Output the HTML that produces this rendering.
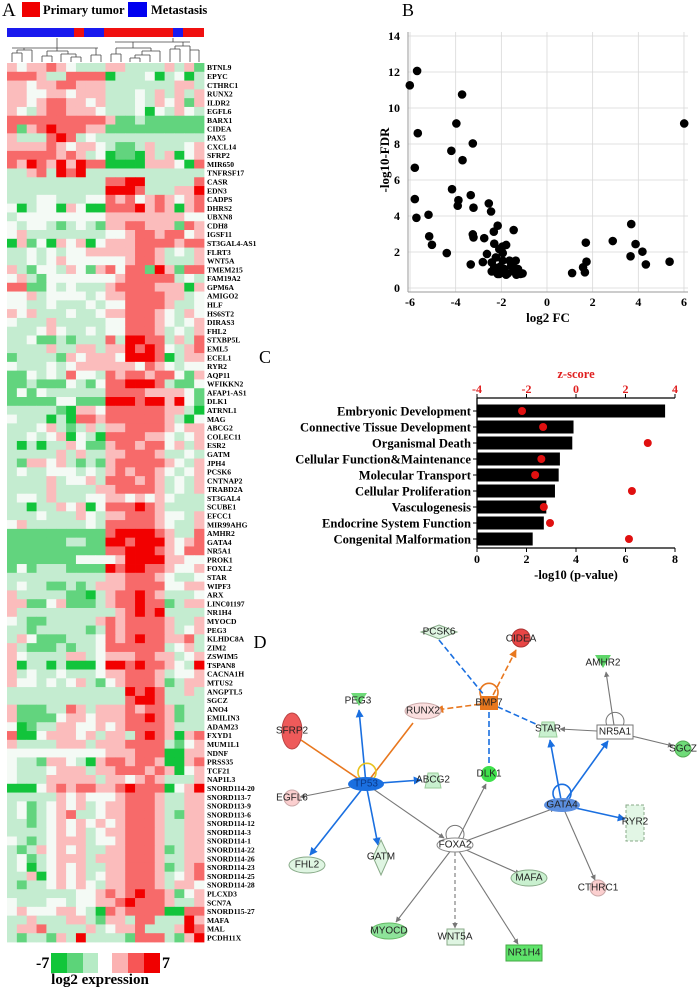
<!DOCTYPE html>
<html><head><meta charset="utf-8"><style>
body{margin:0;background:#fff;}
svg{display:block;font-family:"Liberation Serif",serif;}
.b{font-weight:bold;}
.net text{font-family:"Liberation Sans",sans-serif;font-size:10px;fill:#222;text-anchor:middle;dominant-baseline:central;}
</style></head><body>
<svg id="fig" width="697" height="992" viewBox="0 0 697 992">
<defs>
<marker id="ab" viewBox="0 0 10 10" refX="9" refY="5" markerWidth="5" markerHeight="5" orient="auto"><path d="M0,0L10,5L0,10z" fill="#1a6fe0"/></marker>
<marker id="ag" viewBox="0 0 10 10" refX="9" refY="5" markerWidth="5" markerHeight="5" orient="auto"><path d="M0,0L10,5L0,10z" fill="#777"/></marker>
<marker id="ao" viewBox="0 0 10 10" refX="9" refY="5" markerWidth="5" markerHeight="5" orient="auto"><path d="M0,0L10,5L0,10z" fill="#e8771e"/></marker>
</defs>
<g>
<text x="2" y="16" font-size="19">A</text>
<rect x="22" y="2" width="18" height="15" fill="#f00000"/>
<text x="43" y="14" font-size="12.5" class="b">Primary tumor</text>
<rect x="128" y="2" width="19" height="15" fill="#0000f0"/>
<text x="151" y="14" font-size="12.5" class="b">Metastasis</text>
</g>
<g>
<rect x="7" y="28" width="67" height="9" fill="#1a1aee"/>
<rect x="74" y="28" width="10" height="9" fill="#f01010"/>
<rect x="84" y="28" width="20" height="9" fill="#1a1aee"/>
<rect x="104" y="28" width="69" height="9" fill="#f01010"/>
<rect x="173" y="28" width="10" height="9" fill="#1a1aee"/>
<rect x="183" y="28" width="21" height="9" fill="#f01010"/>
</g>
<path fill="none" stroke="#444" stroke-width="0.8" d="
M57,38V48 M12,48H98
M12,62V53 M22,62V53 M12,53H22 M17,53V50 M32,62V50 M17,50H32 M24,50V48
M42,62V56 M52,62V56 M42,56H52 M47,56V51 M61,62V54 M71,62V57 M81,62V57 M71,57H81 M76,57V54 M61,54H76 M68,54V51 M47,51H68 M57,51V48
M91,62V55 M101,62V55 M91,55H101 M96,55V48
M173,38V42 M115,42H190
M111,62V54 M121,62V54 M111,54H121 M116,54V48 M130,62V58 M140,62V58 M130,58H140 M135,58V55 M150,62V55 M135,55H150 M142,55V51 M160,62V56 M160,56V51 M142,51H160 M151,51V48 M116,48H151 M133,48V42
M170,62V49 M180,62V49 M170,49H180 M175,49V46 M190,62V46 M175,46H190 M183,46V42 M199,62V50 M190,50H199"/>
<g id="heat"></g>
<g>
<text x="36" y="968" font-size="16" class="b">-7</text>
<rect x="51" y="953" width="16" height="20" fill="#11c63a"/>
<rect x="67" y="953" width="16" height="20" fill="#5cd479"/>
<rect x="83" y="953" width="15" height="20" fill="#b6ebc5"/>
<rect x="112" y="953" width="16" height="20" fill="#fbb2b2"/>
<rect x="128" y="953" width="16" height="20" fill="#f75656"/>
<rect x="144" y="953" width="16" height="20" fill="#f00000"/>
<text x="162" y="968" font-size="16" class="b">7</text>
<text x="100" y="984" font-size="15" class="b" text-anchor="middle">log2 expression</text>
</g>
<g id="volc">
<text x="402" y="16" font-size="18">B</text>
<text transform="translate(389,160) rotate(-90)" font-size="13" class="b" text-anchor="middle">-log10-FDR</text>
<text x="548" y="322" font-size="13" class="b" text-anchor="middle">log2 FC</text>
</g>
<g id="bars">
<text x="259" y="363" font-size="18">C</text>
<text x="576" y="378" font-size="12.5" class="b" fill="#e02020" text-anchor="middle">z-score</text>
<text x="576" y="579" font-size="12.5" class="b" text-anchor="middle">-log10 (p-value)</text>
</g>
<g class="net">
<text x="260" y="642" style="font-family:'Liberation Serif',serif;font-size:18px;fill:#000">D</text>
<g fill="none" stroke-width="1.6">
<line x1="366" y1="784" x2="359" y2="710" stroke="#1a6fe0" marker-end="url(#ab)"/>
<line x1="366" y1="784" x2="310" y2="855" stroke="#1a6fe0" marker-end="url(#ab)"/>
<line x1="366" y1="784" x2="378" y2="845" stroke="#1a6fe0" marker-end="url(#ab)"/>
<line x1="366" y1="784" x2="421" y2="780" stroke="#1a6fe0" marker-end="url(#ab)"/>
<line x1="366" y1="784" x2="301" y2="740" stroke="#e8771e"/>
<line x1="366" y1="784" x2="413" y2="723" stroke="#e8771e"/>
<line x1="366" y1="784" x2="300" y2="797" stroke="#777" stroke-width="1.1" marker-end="url(#ag)"/>
<line x1="366" y1="784" x2="444" y2="838" stroke="#777" stroke-width="1.1" marker-end="url(#ag)"/>
<path d="M360,778 a9,9 0 1 1 14,0" stroke="#e8c21e"/>
<line x1="489" y1="703" x2="436" y2="710" stroke="#e8771e" stroke-dasharray="6,3" marker-end="url(#ao)"/>
<line x1="489" y1="703" x2="516" y2="650" stroke="#e8771e" stroke-dasharray="6,3" marker-end="url(#ao)"/>
<path d="M482,698 a9,9 0 1 1 14,0" stroke="#e8771e"/>
<line x1="489" y1="703" x2="489" y2="763" stroke="#1a6fe0" stroke-dasharray="6,3"/>
<line x1="489" y1="703" x2="538" y2="725" stroke="#1a6fe0" stroke-dasharray="6,3"/>
<line x1="439" y1="640" x2="484" y2="695" stroke="#1a6fe0" stroke-dasharray="6,3"/>
<line x1="562" y1="805" x2="550" y2="740" stroke="#1a6fe0" marker-end="url(#ab)"/>
<line x1="562" y1="805" x2="608" y2="741" stroke="#1a6fe0" marker-end="url(#ab)"/>
<line x1="562" y1="805" x2="625" y2="819" stroke="#1a6fe0" marker-end="url(#ab)"/>
<path d="M555,799 a9,9 0 1 1 14,0" stroke="#1a6fe0"/>
<line x1="615" y1="732" x2="560" y2="729" stroke="#777" stroke-width="1.1" marker-end="url(#ag)"/>
<line x1="615" y1="732" x2="606" y2="672" stroke="#777" stroke-width="1.1" marker-end="url(#ag)"/>
<line x1="615" y1="732" x2="673" y2="746" stroke="#777" stroke-width="1.1" marker-end="url(#ag)"/>
<path d="M608,727 a9,9 0 1 1 14,0" stroke="#777" stroke-width="1"/>
<line x1="562" y1="805" x2="595" y2="880" stroke="#777" stroke-width="1.1" marker-end="url(#ag)"/>
<line x1="455" y1="845" x2="555" y2="808" stroke="#777" stroke-width="1.1" marker-end="url(#ag)"/>
<line x1="455" y1="845" x2="486" y2="784" stroke="#777" stroke-width="1.1" marker-end="url(#ag)"/>
<line x1="455" y1="845" x2="520" y2="874" stroke="#777" stroke-width="1.1" marker-end="url(#ag)"/>
<line x1="455" y1="845" x2="396" y2="922" stroke="#777" stroke-width="1.1" marker-end="url(#ag)"/>
<line x1="455" y1="845" x2="455" y2="928" stroke="#777" stroke-width="1.1" stroke-dasharray="4,3" marker-end="url(#ag)"/>
<line x1="455" y1="845" x2="518" y2="944" stroke="#777" stroke-width="1.1" marker-end="url(#ag)"/>
<path d="M448,840 a9,9 0 1 1 14,0" stroke="#777" stroke-width="1"/>
</g>
<g><path d="M439,625L457,632L439,639L421,632z" fill="#dff5e2" stroke="#8a8"/><text x="439" y="632">PCSK6</text></g>
<g><circle cx="521" cy="638" r="9" fill="#e84545" stroke="#a33"/><text x="521" y="639">CIDEA</text></g>
<g><path d="M595,655H611L603,668z" fill="#5fd66a"/><text x="603" y="663">AMHR2</text></g>
<g><rect x="480" y="696" width="18" height="14" fill="#e8771e"/><text x="489" y="703">BMP7</text></g>
<g><path d="M351,693H367L359,706z" fill="#6fdb79"/><text x="358" y="701">PEG3</text></g>
<g><ellipse cx="423" cy="711" rx="18" ry="8" fill="#fbdede" stroke="#caa"/><text x="423" y="711">RUNX2</text></g>
<g><ellipse cx="292" cy="731" rx="10" ry="18" fill="#ee5a5a" stroke="#b44"/><text x="292" y="731">SFRP2</text></g>
<g><path d="M542,722H554L557,737H539z" fill="#c9f0cf" stroke="#9c9"/><text x="548" y="729">STAR</text></g>
<g><rect x="597" y="725" width="36" height="14" fill="#fff" stroke="#777"/><text x="615" y="732">NR5A1</text></g>
<g><circle cx="683" cy="749" r="8" fill="#6fdb79" stroke="#5a5"/><text x="683" y="749">SGCZ</text></g>
<g><ellipse cx="366" cy="784" rx="18" ry="7" fill="#1a6fe0"/><text x="366" y="784" style="fill:#0b3a8a">TP53</text></g>
<g><path d="M428,773H438L441,788H425z" fill="#c9f0cf" stroke="#9c9"/><text x="433" y="780">ABCG2</text></g>
<g><circle cx="489" cy="774" r="8" fill="#3ee04b"/><text x="489" y="774">DLK1</text></g>
<g><circle cx="292" cy="798" r="8" fill="#fbcfcf" stroke="#caa"/><text x="292" y="798">EGFL6</text></g>
<g><ellipse cx="562" cy="805" rx="18" ry="7" fill="#5b8fe0"/><text x="562" y="805">GATA4</text></g>
<g><rect x="626" y="805" width="18" height="36" fill="#e2f6e5" stroke="#8a8" stroke-dasharray="3,2"/><text x="635" y="822">RYR2</text></g>
<g><ellipse cx="455" cy="845" rx="18" ry="7" fill="#fff" stroke="#888"/><text x="455" y="845">FOXA2</text></g>
<g><ellipse cx="307" cy="865" rx="18" ry="8" fill="#dff5e2" stroke="#8a8"/><text x="307" y="865">FHL2</text></g>
<g><path d="M381,840L389,857L381,875L373,857z" fill="#dff5e2" stroke="#8a8"/><text x="381" y="857">GATM</text></g>
<g><ellipse cx="529" cy="878" rx="18" ry="8" fill="#c9f0cf" stroke="#8a8"/><text x="529" y="878">MAFA</text></g>
<g><circle cx="598" cy="888" r="8" fill="#fbcfcf" stroke="#caa"/><text x="598" y="888">CTHRC1</text></g>
<g><ellipse cx="389" cy="931" rx="18" ry="8" fill="#8ee39a" stroke="#6b6"/><text x="389" y="931">MYOCD</text></g>
<g><rect x="447" y="929" width="17" height="16" fill="#dff5e2" stroke="#8a8"/><text x="455" y="937">WNT5A</text></g>
<g><rect x="506" y="945" width="36" height="16" fill="#5ee36a" stroke="#4a4"/><text x="524" y="953">NR1H4</text></g>
</g>
</svg>
<script>
const NS='http://www.w3.org/2000/svg';
function mk(tag,attrs,parent){const e=document.createElementNS(NS,tag);for(const k in attrs)e.setAttribute(k,attrs[k]);parent.appendChild(e);return e;}
const genes=["BTNL9","EPYC","CTHRC1","RUNX2","ILDR2","EGFL6","BARX1","CIDEA","PAX5","CXCL14","SFRP2","MIR650","TNFRSF17","CASR","EDN3","CADPS","DHRS2","UBXN8","CDH8","IGSF11","ST3GAL4-AS1","FLRT3","WNT5A","TMEM215","FAM19A2","GPM6A","AMIGO2","HLF","HS6ST2","DIRAS3","FHL2","STXBP5L","EML5","ECEL1","RYR2","AQP11","WFIKKN2","AFAP1-AS1","DLK1","ATRNL1","MAG","ABCG2","COLEC11","ESR2","GATM","JPH4","PCSK6","CNTNAP2","TRABD2A","ST3GAL4","SCUBE1","EFCC1","MIR99AHG","AMHR2","GATA4","NR5A1","PROK1","FOXL2","STAR","WIPF3","ARX","LINC01197","NR1H4","MYOCD","PEG3","KLHDC8A","ZIM2","ZSWIM5","TSPAN8","CACNA1H","MTUS2","ANGPTL5","SGCZ","ANO4","EMILIN3","ADAM23","FXYD1","MUM1L1","NDNF","PRSS35","TCF21","NAP1L3","SNORD114-20","SNORD113-7","SNORD113-9","SNORD113-6","SNORD114-12","SNORD114-3","SNORD114-1","SNORD114-22","SNORD114-26","SNORD114-23","SNORD114-25","SNORD114-28","PLCXD3","SCN7A","SNORD115-27","MAFA","MAL","PCDH11X"];
const rowsA=["p0pprp0lllppllllplpg","rrrpllrrrrGlll0Gl0Gl","pp0pprrppplllllllppl","pp00pp0ppplll0lplplp","pp0prrpp0plll0lp0pgp","p0lprrppp0lll0G0lp0l","rrrrrrrrrrpgglgggggg","rgprRrrrppgggggggggg","plllrRrl0lllllllllll","pppprp0pp0lgglplll0p","rrrrrprpl0GggGplpG0p","rpRrpRpRrrGGGGppp0Gr","llprlRrRllllllllllll"];
const rowsB=["llllllllllrrRRlllllr","llllllllllRRRrlllppR","lll00lll00rpr0prp0pr","0Gl00Gp0GGrrrRprpGpr","l000000000pppppppp00","0l00lgl0lgpprrpppgrp","0pllllllll00prrprr0p","Gpg0Gp0pG0ppprrrrprr","ll0l0l00ppppprrpl0lp","ll0l0p000000prrplllp","plg00lp0gpr0rrgRpgrr","0plg0000000prrrrrl0l","rrgg0l0lllprrrrpppGp","00pl0000l0pprrrrppl0","00ll0lll0l00rrrrpll0","p0plll0ll0pprrrp0lp0","0lllplllll00rrrp0l0p","lll0p0ll0l00rrrpl0lp","ll0gglglllrlRRrrlplr","llllpllpplppRrRr0lpr","gllllgp0ppp0RRRrGlpp","0lll0l0pppppp0rp0l00","gg0l0lr00lrprrprr0gp","gglggg0lg0rrRRRrlgg0","g0g0llllllrrrrpppp0g","ggggg00gggRRRrRRpR0g","lllllgGpp0rrrrrrpplG","0lllGlGrrprrrrrrplG0","lll0plglplpprrrrp0pp","ll0l0pG0lGrrrrpp0l0p","lGlGllp0ggprrprr0plp","lllllplpllpprrrpll0l","lgpp0plglgprrrrrp0lp","l0ll000l0lprprrp0l0p","llllpl00plrrrprpl0lp","llllpllllpprrrrpl0lp","l00lplll00pp0p0p0lll","llGllp0pG0rrrRrpllll","lll0lllp0lpprrrp00lp","0pllllll0lrrrrrp0llp"];
const rowsC=["ggggggggggrRRRRrpllr","ggggggllggRRrRRRp0pr","ggggggggggrrRRRrp0rr","ggggggg0000pRRRRpp00","g0glllggggRrRRrrp00p","llllllllllpprrrp0ll0","l0llgglglppprrrr00pp","plllllggGlprrRrplll0","ppgg0pggglprrRrrglpp","pllllllllllprRrRllll","0lgglllllprprrrrpllp","llglllllglrprrrrpl0p","lp0ggglll0rprRrrpprl","plggglgll0rrrrrrl0pl","p0llllppl0ppprrppl0p","pGllGlGGG0RRrRrrp0lR","pl0ll0lll0pprrrpl00p","p00l0l0plg0prrrpglpp","llllllllllllRrRrllpl","llllllllllllrRRrllll","pgggllrplppprprrpgll","pgggg0pp0ppprrRrpgll","0Ggllpp00p0prrrrplll","rGG0ppp0plpplrRrpGpr","pllllppplppprrrrlg0p","0000000000ppprrrGGpp","0llgpp0lGprrprrpGGpr","0lll0ppplpprrrprpG0p","0lllppppplpp0prplllp"];
const rowsD=["GGG0prprrpprRrrrG0pR","lllllp0p000prrrpllpp","l0gl0p0pl0pprrrpllpp","l0gl0prll0pprrrplgpp","llgl0p0p0p0prrrpllpp","llll0p0pl0pprrrpllpp","0lgl0pppl00prrrpllpp","lglp0p0pllpprrrpglpp","l0gl0ppplppprrrpllpp","l0Gl0p0pllpprrrpglpr","llpG0p0pl0pprrrpl0pr","lgll0p0p0lpprrrplpp0","lllllll00prprRrrpg0p","0lll00l00pprRrrrpllp","0p000pp0lGrprrrrGGrr","llplllpplgpplrrlllRp","lpprllllpl0pprlllpRr","lgllgplRllllgrrrlgpR"];
const heatRows=rowsA.concat(rowsB,rowsC,rowsD);
const levelColors={G:"#12c43b",g:"#62d47e",l:"#c4ecd0",'0':"#f4faf5",p:"#fbbcbc",r:"#f76a6a",R:"#f20000"};
const HX0=7,HCW=9.85,HY0=63,HRH=8.79;
const heat=document.getElementById('heat');
heatRows.forEach((row,i)=>{
  for(let j=0;j<20;j++){
    const ch=row[j]||'0';
    const c=mk('rect',{x:HX0+j*HCW,y:HY0+i*HRH,width:HCW+0.4,height:HRH+0.4,fill:levelColors[ch]||'#fff'},heat);
    
    
  }
  const t=mk('text',{x:207,y:HY0+i*HRH+HRH*0.82,'font-size':7.6,'font-weight':'bold'},heat);
  t.textContent=genes[i];
  
  
});
const volcX=[-6.01,-5.69,-3.72,-3.97,-5.66,-3.25,-4.19,-3.70,-5.79,-4.16,-3.34,-3.88,-3.91,-3.22,-2.55,-2.45,-5.79,-5.72,-5.19,-2.16,-2.33,-1.46,-3.25,-3.22,-2.75,-5.16,-5.04,-2.31,-1.79,-4.39,-3.34,-2.81,-2.63,-2.09,-1.94,-2.42,-2.24,-2.06,-2.42,-2.16,-1.87,-1.72,-1.57,-1.46,-1.37,-1.27,-1.16,-1.07,-1.64,-1.94,-2.09,-1.34,-1.79,-2.31,-1.50,-1.95,1.10,1.66,1.58,1.73,1.70,2.88,3.69,3.88,4.18,3.66,4.33,5.37,6.01];
const volcY=[11.26,12.06,10.75,9.14,8.60,8.03,7.62,7.10,6.68,5.49,5.16,4.88,4.57,4.46,4.70,4.25,4.94,3.90,4.07,3.46,3.13,3.22,2.98,2.81,2.77,2.87,2.40,2.46,2.39,1.94,1.31,1.44,1.89,2.16,1.94,1.42,1.70,1.18,0.92,0.78,1.05,0.81,1.24,0.92,1.52,1.05,0.78,0.81,1.52,1.52,0.78,0.74,0.74,1.15,1.35,2.30,0.83,0.87,1.15,1.46,2.52,2.61,3.55,2.44,2.02,1.76,1.31,1.46,9.14];
const volcXTicks=[-6,-4,-2,0,2,4,6];
const volcYTicks=[0,2,4,6,8,10,12,14];
const vx=v=>547+v*22.83, vy=v=>288-v*18.0;
const volc=document.getElementById('volc');
volcXTicks.forEach(t=>{
  const l=mk('line',{x1:vx(t),x2:vx(t),y1:32,y2:292,stroke:'#d8d8d8','stroke-width':0.8},volc);
  
  
  const tx=mk('text',{x:vx(t),y:306,'font-size':12,'font-weight':'bold','text-anchor':'middle'},volc);
  tx.textContent=t;
  
  
});
volcYTicks.forEach(t=>{
  const l=mk('line',{x1:408,x2:688,y1:vy(t),y2:vy(t),stroke:'#d8d8d8','stroke-width':0.8},volc);
  
  
  const tx=mk('text',{x:400,y:vy(t)+4,'font-size':12,'font-weight':'bold','text-anchor':'end'},volc);
  tx.textContent=t;
  
  
});
const ax1=mk('line',{x1:408,x2:408,y1:32,y2:292,stroke:'#999'},volc);


const ax2=mk('line',{x1:408,x2:688,y1:292,y2:292,stroke:'#999'},volc);


volcX.forEach((x,i)=>{
  const c=mk('circle',{cx:vx(x),cy:vy(volcY[i]),r:4.3,fill:'#000'},volc);
  
  
});
const pathways=["Embryonic Development","Connective Tissue Development","Organismal Death","Cellular Function&Maintenance","Molecular Transport","Cellular Proliferation","Vasculogenesis","Endocrine System Function","Congenital Malformation"];
const pValues=[7.6,3.9,3.85,3.35,3.3,3.15,2.8,2.7,2.25];
const zScores=[-2.18,-1.33,2.9,-1.4,-1.65,2.26,-1.3,-1.05,2.14];
const pTicks=[0,2,4,6,8];
const zTicks=[-4,-2,0,2,4];
const px=v=>477+v*24.75, zx=z=>477+(z+4)*24.75, rowY=i=>411+i*16;
const bars=document.getElementById('bars');
const la=mk('line',{x1:477,x2:477,y1:398,y2:548,stroke:'#000','stroke-width':1.3},bars);


const ta=mk('line',{x1:477,x2:675,y1:398,y2:398,stroke:'#000','stroke-width':1.3},bars);


const ba=mk('line',{x1:477,x2:675,y1:548,y2:548,stroke:'#000','stroke-width':1.3},bars);


pTicks.forEach(t=>{
  mk('line',{x1:px(t),x2:px(t),y1:548,y2:552,stroke:'#000'},bars);
  const tx=mk('text',{x:px(t),y:563,'font-size':12,'font-weight':'bold','text-anchor':'middle'},bars);
  tx.textContent=t;
  
  
});
zTicks.forEach(t=>{
  mk('line',{x1:zx(t),x2:zx(t),y1:394,y2:398,stroke:'#000'},bars);
  const tx=mk('text',{x:zx(t),y:393,'font-size':12,'font-weight':'bold','text-anchor':'middle',fill:'#e02020'},bars);
  tx.textContent=t;
  
  
});
pathways.forEach((p,i)=>{
  const y=rowY(i);
  mk('line',{x1:473,x2:477,y1:y,y2:y,stroke:'#000'},bars);
  const tx=mk('text',{x:471,y:y+4.5,'font-size':12.6,'font-weight':'bold','text-anchor':'end'},bars);
  tx.textContent=p;
  
  
  const r=mk('rect',{x:477,y:y-6.5,width:px(pValues[i])-477,height:13,fill:'#000'},bars);
  
  
  const c=mk('circle',{cx:zx(zScores[i]),cy:y,r:4,fill:'#e01010'},bars);
  
  
});
</script>
</body></html>
